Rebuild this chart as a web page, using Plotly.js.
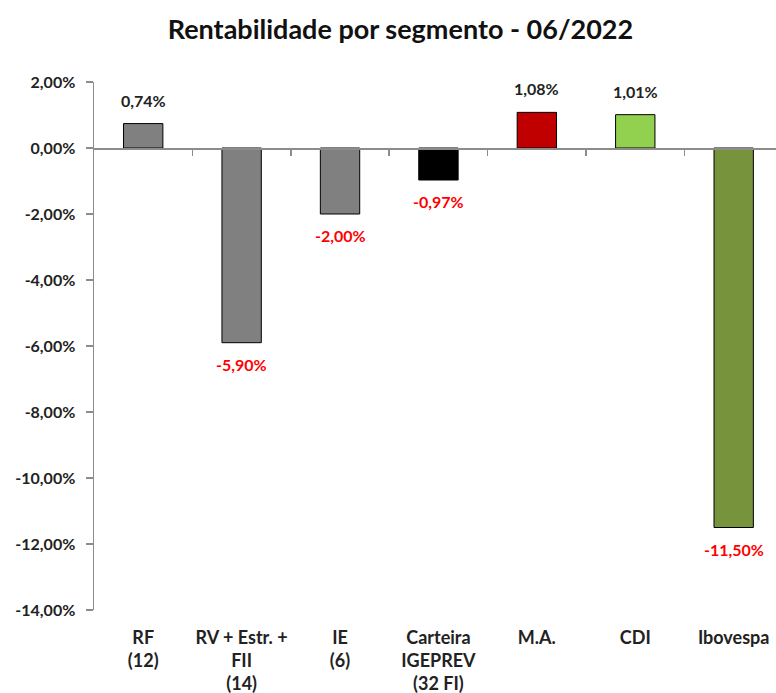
<!DOCTYPE html>
<html>
<head>
<meta charset="utf-8">
<script src="https://cdn.plot.ly/plotly-3.0.1.min.js"></script>
<style>html,body{margin:0;padding:0;background:#fff;overflow:hidden}</style>
</head>
<body>
<div id="chart" style="width:776px;height:693px"></div>
<script>
const categories = ["RF<br>(12)", "RV + Estr. +<br>FII<br>(14)", "IE<br>(6)", "Carteira<br>IGEPREV<br>(32 FI)", "M.A.", "CDI", "Ibovespa"];
const values = [0.74, -5.90, -2.00, -0.97, 1.08, 1.01, -11.50];
const barColors = ["#808080", "#808080", "#808080", "#000000", "#C00000", "#92D050", "#77933C"];
const yTicks = [2, 0, -2, -4, -6, -8, -10, -12, -14];
const titleText = "Rentabilidade por segmento - 06/2022";

const FONT = "Lato, 'Open Sans', sans-serif";
const idx = categories.map((c, i) => i);

const bars = {
  type: "bar",
  x: idx,
  y: values,
  width: 0.4,
  marker: {color: barColors, line: {color: "#000000", width: 1}},
  hoverinfo: "skip"
};
const dummy = {type: "scatter", x: [null], y: [null], xaxis: "x2", yaxis: "y", showlegend: false, hoverinfo: "skip"};

const fmt = v => v.toFixed(2).replace(".", ",") + "%";
const annotations = values.map((v, i) => ({
  x: i, y: v, xref: "x", yref: "y",
  text: fmt(v),
  showarrow: false,
  yanchor: v >= 0 ? "bottom" : "top",
  yshift: v >= 0 ? 12 : -10,
  font: {family: FONT, size: 16, color: v >= 0 ? "#222222" : "#FF0000", weight: "bold"}
}));

const layout = {
  width: 776, height: 693,
  margin: {l: 94, r: 0, t: 82, b: 83},
  paper_bgcolor: "#ffffff", plot_bgcolor: "#ffffff",
  showlegend: false,
  separators: ",.",
  font: {family: FONT, size: 16, color: "#222222"},
  title: {text: "<b>" + titleText + "</b>", font: {family: FONT, size: 27, color: "#111111"},
          x: 0.516, xanchor: "center", xref: "container", y: 0.957, yref: "container", yanchor: "middle"},
  xaxis: {
    range: [-0.5, 6.43], tickmode: "array", tickvals: idx, ticktext: categories,
    showline: false, showgrid: false, zeroline: false,
    ticks: "outside", ticklen: 11, tickcolor: "rgba(0,0,0,0)",
    tickfont: {family: FONT, size: 18, color: "#222222", weight: "bold"}, fixedrange: true
  },
  xaxis2: {
    overlaying: "x", anchor: "free", position: 0.875, side: "bottom",
    range: [-0.5, 6.43], tickmode: "array", tickvals: [0.5, 1.5, 2.5, 3.5, 4.5, 5.5],
    showticklabels: false, ticks: "outside", ticklen: 6, tickcolor: "#8c8c8c", tickwidth: 1.5,
    showline: true, linecolor: "#8c8c8c", linewidth: 1.5, showgrid: false, zeroline: false
  },
  yaxis: {
    range: [-14, 2], tickmode: "array", tickvals: yTicks,
    ticktext: yTicks.map(fmt),
    showline: true, linecolor: "#8c8c8c", linewidth: 1.5,
    ticks: "outside", ticklen: 7, tickcolor: "#8c8c8c", tickwidth: 1.5,
    ticklabelstandoff: 7,
    showgrid: false, zeroline: false,
    tickfont: {family: FONT, size: 16, color: "#222222", weight: "bold"}
  },
  annotations: annotations
};

Plotly.newPlot("chart", [bars, dummy], layout, {displayModeBar: false, staticPlot: true});
</script>
</body>
</html>
